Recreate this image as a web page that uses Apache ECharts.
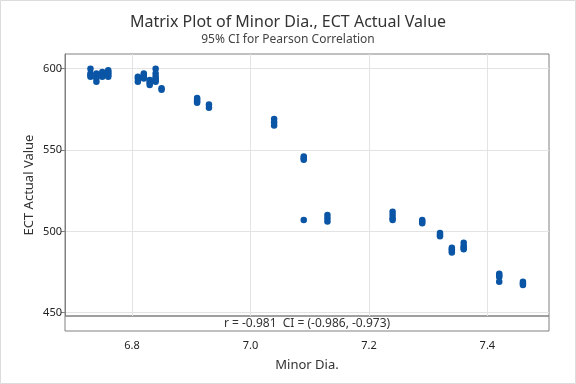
<!DOCTYPE html>
<html>
<head>
<meta charset="utf-8">
<script src="https://cdn.jsdelivr.net/npm/echarts@6/dist/echarts.min.js"></script>
<style>
  html, body { margin: 0; padding: 0; background: #fff; }
  #main { width: 576px; height: 384px; }
</style>
</head>
<body>
<div id="main"></div>
<script>
// Minor Dia. vs ECT Actual Value
const minorDia = [
  6.73, 6.73, 6.73, 6.73,
  6.74, 6.74, 6.74, 6.74,
  6.75, 6.75, 6.75, 6.75,
  6.76, 6.76, 6.76, 6.76, 6.76,
  6.81, 6.81, 6.81,
  6.82, 6.82, 6.82, 6.82,
  6.83, 6.83, 6.83, 6.83,
  6.84, 6.84, 6.84, 6.84, 6.84, 6.84,
  6.85, 6.85,
  6.91, 6.91, 6.91, 6.91,
  6.93, 6.93,
  7.04, 7.04, 7.04,
  7.09, 7.09, 7.09, 7.09,
  7.13, 7.13, 7.13,
  7.24, 7.24, 7.24, 7.24,
  7.29, 7.29, 7.29,
  7.32, 7.32, 7.32,
  7.34, 7.34, 7.34, 7.34,
  7.36, 7.36, 7.36, 7.36,
  7.42, 7.42, 7.42, 7.42,
  7.46, 7.46, 7.46
];
const ectValue = [
  600, 597, 596, 595,
  597, 595, 594, 592,
  598, 597, 596, 595,
  599, 598, 597, 596, 595,
  595, 594, 592,
  597, 596, 595, 594,
  593, 592, 591, 590,
  600, 597, 595, 594, 593, 592,
  588, 587,
  582, 581, 580, 579,
  578, 576,
  569, 567, 565,
  546, 545, 544, 507,
  510, 508, 506,
  512, 510, 508, 507,
  507, 506, 505,
  499, 498, 497,
  490, 489, 488, 487,
  493, 491, 490, 489,
  474, 473, 472, 469,
  469, 468, 467
];
const xTicks = [6.8, 7.0, 7.2, 7.4];
const yTicks = [450, 500, 550, 600];
const corrText = "r = -0.981  CI = (-0.986, -0.973)";

const chart = echarts.init(document.getElementById("main"));
const font = "Noto Sans";
const gridColor = "#e3e3e3";
const frameColor = "#808080";

const points = minorDia.map((x, i) => [x, ectValue[i]]);

const option = {
  backgroundColor: "#fff",
  animation: false,
  textStyle: { fontFamily: font },
  title: {
    text: "Matrix Plot of Minor Dia., ECT Actual Value",
    subtext: "95% CI for Pearson Correlation",
    left: "center",
    top: 9,
    itemGap: 4,
    textStyle: { fontFamily: font, fontSize: 16, fontWeight: "normal", color: "#333" },
    subtextStyle: { fontFamily: font, fontSize: 12, color: "#444" }
  },
  grid: [
    { left: 65, right: 27, top: 54, height: 262, show: true, borderColor: frameColor, borderWidth: 1 },
    { left: 65, right: 27, top: 316, height: 15, show: true, borderColor: frameColor, borderWidth: 1 }
  ],
  xAxis: [
    {
      gridIndex: 0,
      type: "value",
      min: 6.687,
      max: 7.504,
      axisLine: { show: false },
      axisTick: { show: false, customValues: xTicks },
      axisLabel: { show: false, customValues: xTicks },
      splitLine: { show: true, lineStyle: { color: gridColor } }
    },
    {
      gridIndex: 1,
      type: "value",
      min: 6.687,
      max: 7.504,
      axisLine: { show: false },
      axisTick: { show: false, customValues: xTicks },
      axisLabel: {
        customValues: xTicks,
        formatter: (v) => v.toFixed(1),
        fontSize: 11,
        color: "#222",
        margin: 9
      },
      splitLine: { show: false },
      name: "Minor Dia.",
      nameLocation: "middle",
      nameGap: 28,
      nameTextStyle: { fontFamily: font, fontSize: 13, color: "#333" }
    }
  ],
  yAxis: [
    {
      gridIndex: 0,
      type: "value",
      min: 448,
      max: 609,
      axisLine: { show: true, lineStyle: { color: frameColor } },
      axisTick: { show: true, length: 4, customValues: yTicks, lineStyle: { color: frameColor } },
      axisLabel: { customValues: yTicks, fontSize: 11, color: "#222", margin: 3 },
      splitLine: { show: true, lineStyle: { color: gridColor } },
      name: "ECT Actual Value",
      nameLocation: "middle",
      nameMoveOverlap: false,
      nameGap: 29,
      nameTextStyle: { fontFamily: font, fontSize: 13, color: "#333" }
    },
    {
      gridIndex: 1,
      type: "value",
      min: 0,
      max: 1,
      show: false
    }
  ],
  graphic: [
    {
      type: "rect",
      shape: { x: 0.5, y: 0.5, width: 575, height: 383 },
      style: { fill: "none", stroke: "#dcdcdc", lineWidth: 1 },
      silent: true
    },
    {
      type: "text",
      x: 307,
      y: 324,
      style: {
        text: corrText,
        fontFamily: font,
        fontSize: 12,
        fill: "#333",
        align: "center",
        verticalAlign: "middle"
      }
    }
  ],
  series: [
    {
      type: "scatter",
      xAxisIndex: 0,
      yAxisIndex: 0,
      symbol: "circle",
      symbolSize: 6.5,
      itemStyle: { color: "#0a55a5", opacity: 1 },
      data: points
    }
  ]
};

chart.setOption(option);
</script>
</body>
</html>
